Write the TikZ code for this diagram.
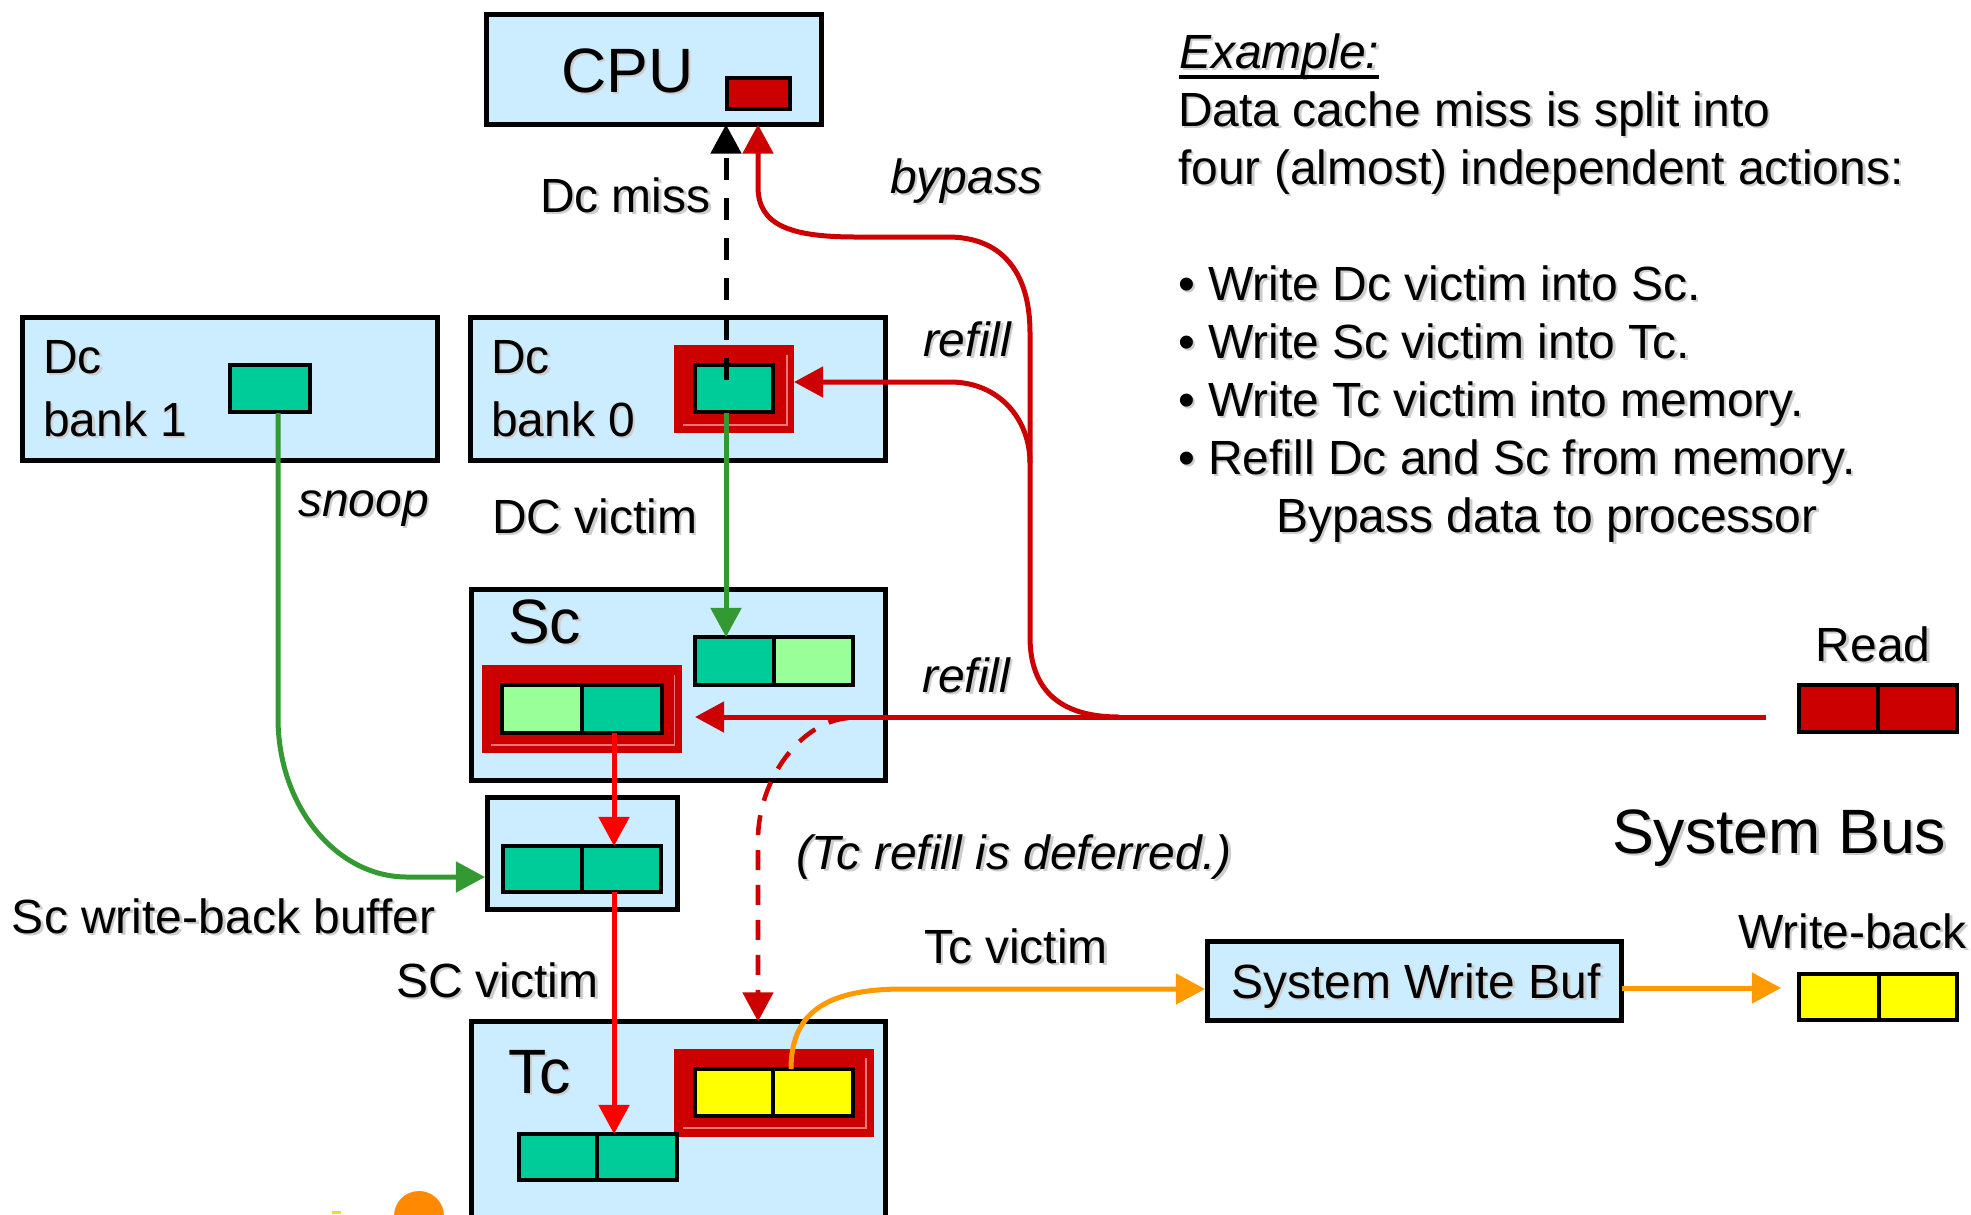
\documentclass[tikz,border=0pt]{standalone}
\usepackage{fontspec}
\setmainfont{Liberation Sans}
\usetikzlibrary{arrows.meta,fit,calc}
\definecolor{lblue}{RGB}{204,236,255}
\definecolor{dred}{RGB}{204,0,0}
\definecolor{cgreen}{RGB}{0,204,153}
\definecolor{lgreen}{RGB}{153,255,153}
\definecolor{cyellow}{RGB}{255,255,0}
\definecolor{corange}{RGB}{255,153,0}
\definecolor{bred}{RGB}{255,0,0}
\definecolor{agreen}{RGB}{51,153,51}
\definecolor{pinkline}{RGB}{235,120,120}
\definecolor{blob}{RGB}{255,137,0}
\definecolor{speck}{RGB}{255,210,70}
\definecolor{shadowgray}{RGB}{205,205,205}
\newcommand\shlabel[4]{%
  \node[#1,text=shadowgray] at ($#3+(2.5,2.5)$) {#4};
  \node[#1] (#2) at #3 {#4};}
\begin{document}
\begin{tikzpicture}[x=0.375pt,y=-0.375pt,
  bigbox/.style={draw=black,line width=1.875pt,fill=lblue,inner sep=0pt,outer sep=0pt},
  cell/.style={draw=black,line width=1.5pt,inner sep=0pt,outer sep=0pt},
  redframe/.style={fill=dred,inner sep=0pt,outer sep=0pt},
  lbl/.style={inner sep=0pt,outer sep=0pt,anchor=base west,font=\fontsize{18}{21.6}\selectfont},
  clbl/.style={lbl,anchor=base},
  ilbl/.style={lbl,font=\fontsize{18}{21.6}\selectfont\itshape},
  biglbl/.style={lbl,font=\fontsize{23.5}{28}\selectfont},
  tip/.style={-{Triangle[length=10.9pt,width=11.25pt]}},
  conn/.style={line width=1.875pt},
  inner/.style={draw=pinkline,line width=0.4pt},
]
\useasboundingbox (0,0) rectangle (1971,1214);
\fill[white] (0,0) rectangle (1971,1214);
\clip (0,0) rectangle (1971,1214);

% ---------- boxes ----------
\node[bigbox,fit={(486.5,14.5)(821.5,124.5)}] (cpu) {};
\node[cell,fill=dred,fit={(727,78)(790,109)}] (cpured) {};

\node[bigbox,fit={(22.5,317.5)(437.5,460.5)}] (dc1) {};
\node[cell,fill=cgreen,fit={(230,365)(310,412)}] (dc1g) {};

\node[bigbox,fit={(470.5,317.5)(885.5,460.5)}] (dc0) {};
\node[redframe,fit={(674,345)(794,433)}] (dc0f) {};
\draw[inner] (787,355) -- (787,425) -- (683,425);
\node[cell,fill=cgreen,fit={(695,365)(773,412)}] (dc0g) {};

\node[bigbox,fit={(471.5,589.5)(885.5,780.5)}] (sc) {};
\node[cell,fill=cgreen,fit={(695,637)(774,685)}] (scA) {};
\node[cell,fill=lgreen,fit={(774,637)(853,685)}] (scB) {};
\node[redframe,fit={(482,665)(682,753)}] (scf) {};
\draw[inner] (674.5,675) -- (674.5,745) -- (491,745);
\node[cell,fill=lgreen,fit={(502,685)(581.5,733)}] (scC) {};
\node[cell,fill=cgreen,fit={(581.5,685)(662,733)}] (scD) {};

\node[bigbox,fit={(487.5,797.5)(677.5,909.5)}] (buf) {};
\node[cell,fill=cgreen,fit={(503,846)(582,892)}] (bufA) {};
\node[cell,fill=cgreen,fit={(582,846)(661,892)}] (bufB) {};

\node[bigbox,fit={(471.5,1021.5)(885.5,1245)}] (tc) {};
\node[redframe,fit={(674,1049)(874,1137)}] (tcf) {};
\draw[inner] (866,1058) -- (866,1128) -- (683,1128);
\node[cell,fill=cyellow,fit={(695,1069)(773,1116)}] (tcA) {};
\node[cell,fill=cyellow,fit={(773,1069)(853,1116)}] (tcB) {};
\node[cell,fill=cgreen,fit={(519,1134)(597,1180)}] (tcC) {};
\node[cell,fill=cgreen,fit={(597,1134)(677,1180)}] (tcD) {};

\node[bigbox,fit={(1207.5,941.5)(1621.5,1020.5)}] (swb) {};

\node[cell,fill=dred,fit={(1799,685)(1878,732)}] (rdA) {};
\node[cell,fill=dred,fit={(1878,685)(1957,732)}] (rdB) {};
\node[cell,fill=cyellow,fit={(1799,974)(1879,1020)}] (wbA) {};
\node[cell,fill=cyellow,fit={(1879,974)(1957,1020)}] (wbB) {};

% cut-off marks at the bottom edge
\fill[blob] (419,1216) circle (25);
\fill[speck] (332,1211) rectangle (341,1214);

% ---------- connectors ----------
\coordinate (dmS) at (726,380);
\draw[conn,black,dash pattern=on 8.25pt off 6.75pt,tip] (dmS) -- (dmS |- cpu.south);

\coordinate (jn) at (1119,717);
\coordinate (bp) at (758,187);
\draw[conn,dred,tip] (jn) .. controls (1060,717) and (1030,690) .. (1030,637)
  -- (1030,333) .. controls (1030,270) and (1000,237) .. (948,237)
  -- (856,237) .. controls (790,237) and (758,225) .. (bp)
  -- (bp |- cpu.south);

\coordinate (rf0) at (1030,463);
\coordinate (rf0t) at (794,382);
\draw[conn,dred,tip] (rf0) .. controls (1030,420) and (1000,382) .. (950,382) -- (rf0t);

\coordinate (rdL) at (1766,717);
\coordinate (rfSc) at (695,717);
\draw[conn,dred,tip] (rdL) -- (rfSc);

\coordinate (tcrS) at (848,718);
\coordinate (tcrV) at (758,840);
\draw[line width=1.7pt,dred,dash pattern=on 7.5pt off 5.6pt,tip] (tcrS) .. controls (800,722) and (758,780) .. (tcrV) -- (tcrV |- tc.north);

\coordinate (dvS) at (726,413);
\draw[conn,agreen,tip] (dvS) -- (dvS |- scA.north);

\coordinate (snS) at (278,413);
\coordinate (snT) at (485,877);
\draw[conn,agreen,tip] (snS) -- (278,718) .. controls (278,806) and (336,877) .. (407,877) -- (snT);

\coordinate (svS) at (614,733);
\draw[conn,bred,tip] (svS) -- (svS |- bufA.north);
\coordinate (svS2) at (614,892);
\draw[conn,bred,tip] (svS2) -- (svS2 |- tcC.north);

\coordinate (tvS) at (791,1069);
\coordinate (tvT) at (1205,989);
\draw[conn,corange,tip] (tvS) .. controls (791,1010) and (830,989) .. (903,989) -- (tvT);
\coordinate (wbS) at (1622,988);
\coordinate (wbT) at (1781,988);
\draw[conn,corange,tip] (wbS) -- (wbT);

% ---------- labels ----------
\shlabel{biglbl}{tcpu}{(561,92)}{CPU}
\shlabel{lbl}{tdcmiss}{(540,212)}{Dc miss}
\shlabel{ilbl}{tbypass}{(890,193)}{bypass}
\shlabel{lbl}{tdc1a}{(43,373)}{Dc}
\shlabel{lbl}{tdc1b}{(43,436)}{bank 1}
\shlabel{lbl}{tdc0a}{(491,373)}{Dc}
\shlabel{lbl}{tdc0b}{(491,436)}{bank 0}
\shlabel{ilbl}{trefill1}{(923,356)}{refill}
\shlabel{ilbl}{tsnoop}{(298,516)}{snoop}
\shlabel{lbl}{tdcv}{(492,533)}{DC victim}
\shlabel{biglbl}{tsc}{(508,643)}{Sc}
\shlabel{ilbl}{trefill2}{(922,692)}{refill}
\shlabel{clbl}{tread}{(1873,661)}{Read}
\shlabel{biglbl}{tsysbus}{(1612,853)}{System Bus}
\shlabel{ilbl}{tdefer}{(796,869)}{(Tc refill is deferred.)}
\shlabel{lbl}{tscwb}{(12,933)}{Sc write-back buffer}
\shlabel{lbl}{tscv}{(396,997)}{SC victim}
\shlabel{lbl}{ttcv}{(924,963)}{Tc victim}
\shlabel{lbl}{tswb}{(1231,998)}{System Write Buf}
\shlabel{lbl}{twb}{(1738,948)}{Write-back}
\shlabel{biglbl}{ttc}{(508,1093)}{Tc}

\shlabel{ilbl}{ex}{(1179,68)}{Example:}
\draw[line width=1.3pt] ($(ex.base west)+(0,9)$) -- ($(ex.base east)+(0,9)$);
\shlabel{lbl}{r1}{(1178,126)}{Data cache miss is split into}
\shlabel{lbl}{r2}{(1178,184)}{four (almost) independent actions:}
\shlabel{lbl}{r3}{(1178,300)}{• Write Dc victim into Sc.}
\shlabel{lbl}{r4}{(1178,358)}{• Write Sc victim into Tc.}
\shlabel{lbl}{r5}{(1178,416)}{• Write Tc victim into memory.}
\shlabel{lbl}{r6}{(1178,474)}{• Refill Dc and Sc from memory.}
\shlabel{lbl}{r7}{(1276,532)}{Bypass data to processor}
\end{tikzpicture}
\end{document}
